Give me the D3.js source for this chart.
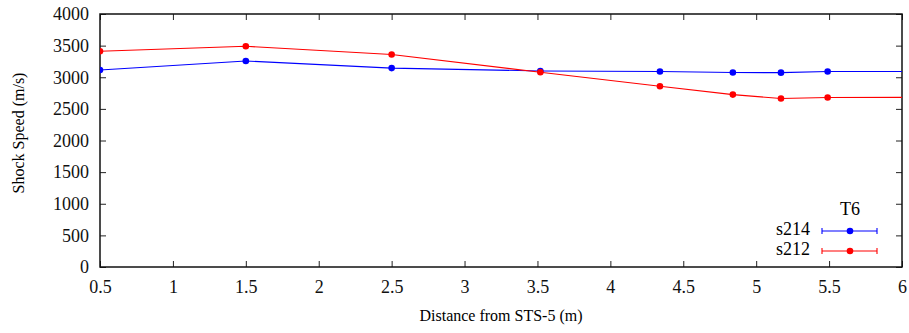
<!DOCTYPE html>
<html>
<head>
<meta charset="utf-8">
<script src="https://cdn.jsdelivr.net/npm/d3@7"></script>
<style>
  body { margin: 0; background: #fff; }
  #container text { font-family: "Liberation Serif", serif !important; }
</style>
</head>
<body>
<div id="container"></div>
<script>
const distances = [0.5, 1.5, 2.5, 3.52, 4.34, 4.84, 5.17, 5.49, 6.5];
const s214 = [3115, 3258, 3145, 3100, 3090, 3075, 3073, 3090, 3090];
const s212 = [3410, 3489, 3360, 3080, 2858, 2726, 2663, 2680, 2684];
const seriesNames = ['s214', 's212'];
const seriesColors = ['#0000ff', '#ff0000'];
const xTicks = [0.5, 1, 1.5, 2, 2.5, 3, 3.5, 4, 4.5, 5, 5.5, 6];
const yTicks = [0, 500, 1000, 1500, 2000, 2500, 3000, 3500, 4000];

const dimensions = { x: 909, y: 333 };
const margin = { top: 14, right: 7, bottom: 66, left: 100 };
const plotW = dimensions.x - margin.left - margin.right;
const plotH = dimensions.y - margin.top - margin.bottom;
const tickLen = 6;
const fontSize = 18;

const svg = d3.select('#container')
  .append('svg')
  .attr('width', dimensions.x)
  .attr('height', dimensions.y);

const xScale = d3.scaleLinear().domain([0.5, 6]).range([0, plotW]);
const yScale = d3.scaleLinear().domain([0, 4000]).range([plotH, 0]);

const plot = svg.append('g')
  .attr('transform', 'translate(' + margin.left + ', ' + margin.top + ')');

svg.append('defs').append('clipPath').attr('id', 'plot-clip')
  .append('rect').attr('width', plotW).attr('height', plotH);

// axes: ticks pointing inward, mirrored on top and right
function styleAxis(g) {
  g.attr('font-family', 'Liberation Serif').attr('font-size', fontSize);
  g.select('.domain').remove();
  g.selectAll('line').attr('stroke', '#222').attr('stroke-width', 1);
  g.selectAll('text').attr('fill', '#111');
}

plot.append('g')
  .attr('transform', 'translate(0, ' + plotH + ')')
  .call(d3.axisBottom(xScale).tickValues(xTicks).tickSize(-tickLen).tickPadding(13)
    .tickFormat(d3.format('')))
  .call(styleAxis);

plot.append('g')
  .call(d3.axisTop(xScale).tickValues(xTicks).tickSize(-tickLen).tickFormat(''))
  .call(styleAxis);

plot.append('g')
  .call(d3.axisLeft(yScale).tickValues(yTicks).tickSize(-tickLen).tickPadding(11)
    .tickFormat(d3.format('d')))
  .call(styleAxis);

plot.append('g')
  .attr('transform', 'translate(' + plotW + ', 0)')
  .call(d3.axisRight(yScale).tickValues(yTicks).tickSize(-tickLen).tickFormat(''))
  .call(styleAxis);

plot.append('rect')
  .attr('width', plotW)
  .attr('height', plotH)
  .attr('fill', 'none')
  .attr('stroke', '#111')
  .attr('stroke-width', 1.5);

// series
const seriesData = [s214, s212];
const line = d3.line()
  .x((d, i) => xScale(distances[i]))
  .y((d) => yScale(d));

const lines = plot.append('g').attr('clip-path', 'url(#plot-clip)');
seriesData.forEach((values, k) => {
  lines.append('path')
    .datum(values)
    .attr('d', line)
    .attr('fill', 'none')
    .attr('stroke', seriesColors[k])
    .attr('stroke-width', 1.1);
  lines.selectAll('.pt' + k)
    .data(values)
    .enter()
    .append('circle')
    .attr('class', 'pt' + k)
    .attr('cx', (d, i) => xScale(distances[i]))
    .attr('cy', (d) => yScale(d))
    .attr('r', 3.3)
    .attr('fill', seriesColors[k]);
});

// legend
const legend = svg.append('g')
  .attr('transform', 'translate(822, 231)')
  .attr('font-family', 'Liberation Serif')
  .attr('font-size', fontSize);
legend.append('text')
  .attr('x', 28)
  .attr('y', -16)
  .attr('text-anchor', 'middle')
  .text('T6');

seriesNames.forEach((name, k) => {
  const row = legend.append('g').attr('transform', 'translate(0, ' + k * 20 + ')');
  row.append('text')
    .attr('x', -12)
    .attr('y', 4)
    .attr('text-anchor', 'end')
    .text(name);
  row.append('line').attr('x1', 0).attr('x2', 55).attr('stroke', seriesColors[k]).attr('stroke-width', 1.1);
  row.append('line').attr('x1', 0).attr('x2', 0).attr('y1', -3).attr('y2', 3).attr('stroke', seriesColors[k]).attr('stroke-width', 1.1);
  row.append('line').attr('x1', 55).attr('x2', 55).attr('y1', -3).attr('y2', 3).attr('stroke', seriesColors[k]).attr('stroke-width', 1.1);
  row.append('circle').attr('cx', 28).attr('r', 3.3).attr('fill', seriesColors[k]);
});

// axis titles
svg.append('text')
  .attr('x', margin.left + plotW / 2)
  .attr('y', 321)
  .attr('text-anchor', 'middle')
  .attr('font-family', 'Liberation Serif')
  .attr('font-size', 16)
  .text('Distance from STS-5 (m)');

svg.append('text')
  .attr('transform', 'translate(24, 133) rotate(-90)')
  .attr('text-anchor', 'middle')
  .attr('font-family', 'Liberation Serif')
  .attr('font-size', 16)
  .text('Shock Speed (m/s)');
</script>
</body>
</html>
